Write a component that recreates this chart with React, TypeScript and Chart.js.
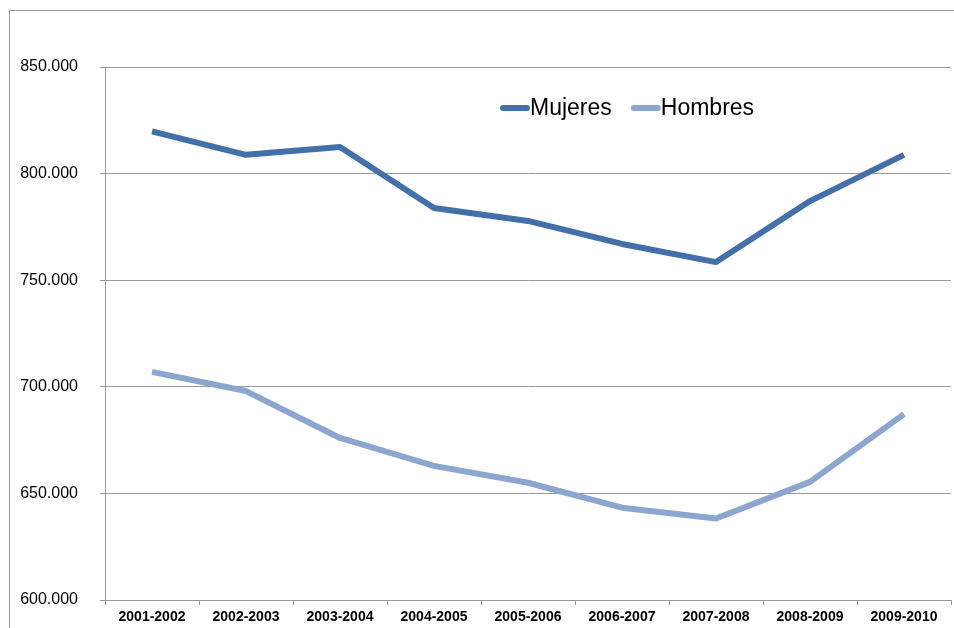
import React, { useEffect, useRef } from "react";
import { Chart, registerables } from "chart.js";

Chart.register(...registerables);

const categories = [
  "2001-2002", "2002-2003", "2003-2004", "2004-2005", "2005-2006",
  "2006-2007", "2007-2008", "2008-2009", "2009-2010",
];
const mujeres = [819800, 808800, 812500, 783900, 777800, 767000, 758500, 787100, 808800];
const hombres = [707000, 698000, 676000, 662900, 655000, 643300, 638200, 655400, 687200];
const yTicks = { min: 600000, max: 850000, step: 50000 };

const MUJ_COLOR = "#4470AA";
const HOM_COLOR = "#8CA6D0";
const GRID = "#9A9A9A";
const FONT = "'Liberation Sans', Arial, sans-serif";

const fmt = (v: number) => {
  const s = Math.round(v).toString();
  return s.replace(/\B(?=(\d{3})+(?!\d))/g, ".");
};

const framePlugin = {
  id: "frame",
  beforeDraw(chart: any) {
    const ctx = chart.ctx;
    ctx.save();
    ctx.fillStyle = "#ffffff";
    ctx.fillRect(0, 0, chart.width, chart.height);
    ctx.strokeStyle = GRID;
    ctx.lineWidth = 1;
    ctx.strokeRect(9.5, 10.5, chart.width + 20, chart.height + 20);
    ctx.restore();
  },
};

const legendPlugin = {
  id: "customLegend",
  afterDraw(chart: any) {
    const ctx = chart.ctx;
    ctx.save();
    ctx.font = `23px ${FONT}`;
    ctx.textBaseline = "middle";
    ctx.textAlign = "left";
    let x = 500;
    const y = 108;
    chart.data.datasets.forEach((ds: any) => {
      ctx.strokeStyle = ds.borderColor;
      ctx.lineWidth = 6;
      ctx.lineCap = "round";
      ctx.beginPath();
      ctx.moveTo(x + 3, y);
      ctx.lineTo(x + 27, y);
      ctx.stroke();
      ctx.fillStyle = "#000000";
      ctx.fillText(ds.label, x + 30, y + 1);
      const w = ctx.measureText(ds.label).width;
      x += 30 + w + 19;
    });
    ctx.restore();
  },
};

export default function App() {
  const ref = useRef<HTMLCanvasElement | null>(null);

  useEffect(() => {
    document.body.style.margin = "0";
    const canvas = ref.current!;
    const chart = new Chart(canvas, {
      type: "line",
      data: {
        labels: categories,
        datasets: [
          {
            label: "Mujeres",
            data: mujeres,
            borderColor: MUJ_COLOR,
            backgroundColor: MUJ_COLOR,
            borderWidth: 6,
            pointRadius: 0,
            borderJoinStyle: "round",
            borderCapStyle: "butt",
            tension: 0,
          },
          {
            label: "Hombres",
            data: hombres,
            borderColor: HOM_COLOR,
            backgroundColor: HOM_COLOR,
            borderWidth: 6,
            pointRadius: 0,
            borderJoinStyle: "round",
            borderCapStyle: "butt",
            tension: 0,
          },
        ],
      },
      options: {
        responsive: false,
        animation: false,
        devicePixelRatio: 1,
        layout: { padding: { left: 10, right: 3, top: 67, bottom: 0 } },
        plugins: {
          legend: { display: false },
          tooltip: { enabled: false },
          title: { display: false },
        },
        scales: {
          x: {
            type: "category",
            offset: true,
            grid: {
              offset: true,
              drawOnChartArea: false,
              drawTicks: true,
              tickLength: 5,
              color: GRID,
            },
            border: { display: true, color: GRID },
            ticks: {
              color: "#000000",
              font: { family: FONT, size: 14, weight: "bold" },
              padding: 4,
              maxRotation: 0,
              autoSkip: false,
            },
            afterFit(scale: any) {
              scale.height = 28;
              scale.paddingLeft = 0;
              scale.paddingRight = 0;
            },
          },
          y: {
            min: yTicks.min,
            max: yTicks.max,
            grid: {
              color: GRID,
              drawTicks: true,
              tickLength: 5,
            },
            border: { display: true, color: GRID },
            ticks: {
              stepSize: yTicks.step,
              color: "#000000",
              font: { family: FONT, size: 16 },
              padding: 22,
              callback: (v: any) => fmt(Number(v)),
            },
            afterFit(scale: any) {
              scale.width = 95;
              scale.paddingTop = 0;
              scale.paddingBottom = 0;
            },
          },
        },
      },
      plugins: [framePlugin, legendPlugin],
    } as any);
    return () => chart.destroy();
  }, []);

  return (
    <div style={{ position: "absolute", left: 0, top: 0, width: 954, height: 628 }}>
      <canvas ref={ref} width={954} height={628} style={{ display: "block" }} />
    </div>
  );
}
